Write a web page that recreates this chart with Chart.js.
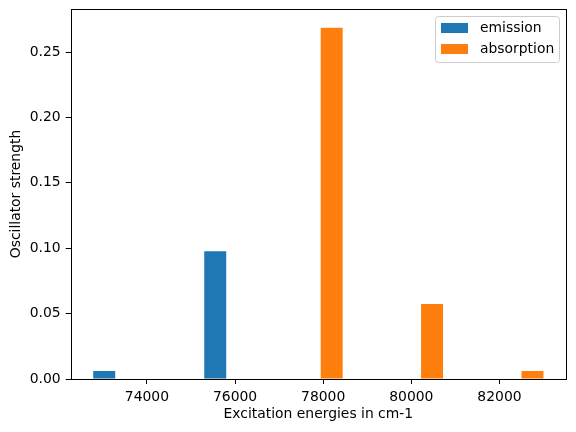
<!DOCTYPE html>
<html>
<head>
<meta charset="utf-8">
<script src="https://cdn.jsdelivr.net/npm/chart.js@4"></script>
<style>
  html, body { margin: 0; padding: 0; background: #fff; }
  #wrap { width: 576px; height: 432px; }
</style>
</head>
<body>
<div id="wrap"><canvas id="myChart"></canvas></div>
<script>
// data
const emissionEnergy = [73031, 75550];
const emissionStrength = [0.0061, 0.0977];
const absorptionEnergy = [78193, 80470, 82749];
const absorptionStrength = [0.2687, 0.0573, 0.0061];
const xTicks = [74000, 76000, 78000, 80000, 82000];
const yTicks = [0.00, 0.05, 0.10, 0.15, 0.20, 0.25];

const FONT = { family: 'DejaVu Sans', size: 13.9 };

function points(xs, ys) {
    return xs.map((x, i) => ({ x: x, y: ys[i] }));
}

// matplotlib style frame + legend inside the axes
const framePlugin = {
    id: 'frame',
    afterDraw(chart) {
        const ctx = chart.ctx;
        const a = chart.chartArea;
        ctx.save();
        ctx.strokeStyle = '#000';
        ctx.lineWidth = 1;
        ctx.strokeRect(Math.round(a.left) + 0.5, Math.round(a.top) + 0.5,
            Math.round(a.right - a.left), Math.round(a.bottom - a.top));

        // legend box
        const bx = 435, by = 16, bw = 124, bh = 46;
        ctx.beginPath();
        ctx.roundRect(bx + 0.5, by + 0.5, bw, bh, 3);
        ctx.fillStyle = 'rgba(255,255,255,0.8)';
        ctx.fill();
        ctx.strokeStyle = '#cccccc';
        ctx.stroke();
        ctx.font = '13.9px "DejaVu Sans"';
        ctx.textBaseline = 'middle';
        chart.data.datasets.forEach((ds, i) => {
            const y = by + 12 + i * 21;
            ctx.fillStyle = ds.backgroundColor;
            ctx.fillRect(441, y - 5, 27, 10);
            ctx.fillStyle = '#000';
            ctx.fillText(ds.label, 480, y);
        });
        ctx.restore();
    }
};

const canvas = document.getElementById('myChart');
const myChart = new Chart(canvas, {
    type: 'bar',
    data: {
        datasets: [{
            label: 'emission',
            data: points(emissionEnergy, emissionStrength),
            backgroundColor: '#1f77b4',
            borderWidth: 0,
            inflateAmount: 0,
            barThickness: 22,
            grouped: false
        }, {
            label: 'absorption',
            data: points(absorptionEnergy, absorptionStrength),
            backgroundColor: '#ff7f0e',
            borderWidth: 0,
            inflateAmount: 0,
            barThickness: 22,
            grouped: false
        }]
    },
    options: {
        responsive: true,
        maintainAspectRatio: false,
        animation: false,
        layout: { padding: { top: 9, right: 10, left: 0, bottom: 0 } },
        plugins: {
            legend: { display: false },
            tooltip: { enabled: false }
        },
        scales: {
            x: {
                type: 'linear',
                offset: false,
                min: 72270,
                max: 83510,
                afterBuildTicks: s => { s.ticks = xTicks.map(v => ({ value: v })); },
                afterFit: s => { s.height = 53; s.paddingLeft = 0; s.paddingRight = 0; },
                grid: { offset: false, drawOnChartArea: false, drawTicks: true, tickLength: 5, color: '#000', tickWidth: 1 },
                border: { display: false },
                ticks: { color: '#000', font: FONT, padding: 5, maxRotation: 0, callback: v => String(v) },
                title: { display: true, text: 'Excitation energies in cm-1', color: '#000', font: FONT, padding: { top: 0, bottom: 9.5 } }
            },
            y: {
                min: 0,
                max: 0.283,
                afterBuildTicks: s => { s.ticks = yTicks.map(v => ({ value: v })); },
                afterFit: s => { s.width = 70.7; s.paddingTop = 0; s.paddingBottom = 0; },
                grid: { drawOnChartArea: false, drawTicks: true, tickLength: 5, color: '#000', tickWidth: 1 },
                border: { display: false },
                ticks: { color: '#000', font: FONT, padding: 5, callback: v => v.toFixed(2) },
                title: { display: true, text: 'Oscillator strength', color: '#000', font: FONT, padding: { top: 8, bottom: 0 } }
            }
        }
    },
    plugins: [framePlugin]
});
</script>
</body>
</html>
